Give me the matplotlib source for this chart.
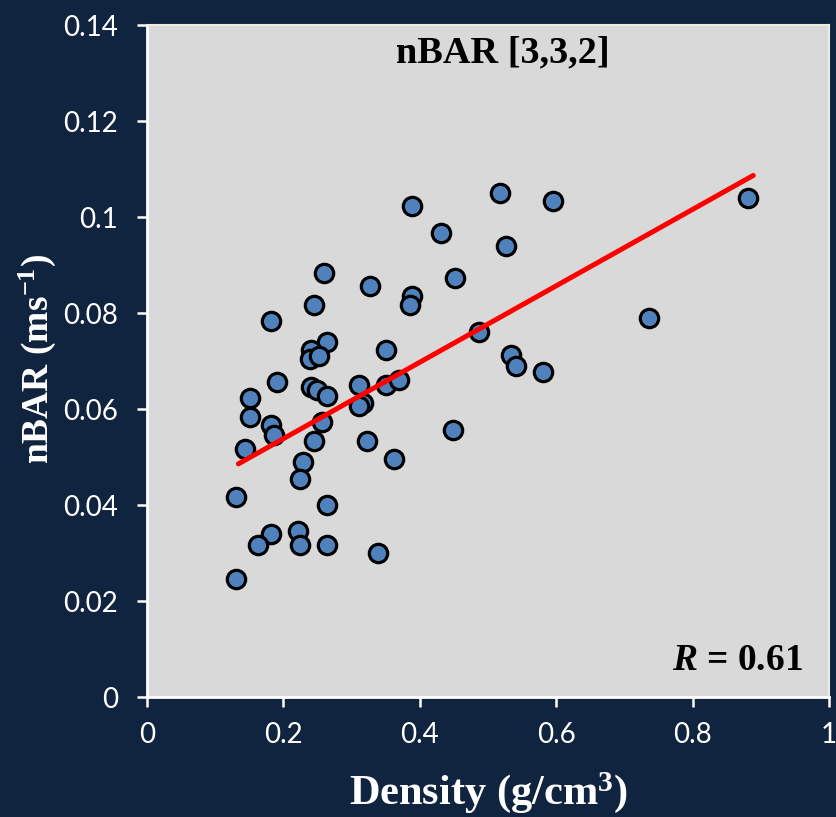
import numpy as np
import matplotlib
matplotlib.use("Agg")
import matplotlib.pyplot as plt

# density (g/cm3) vs nBAR (ms-1)
density = [0.389, 0.518, 0.431, 0.526, 0.260, 0.327, 0.451, 0.245, 0.389, 0.385,
           0.182, 0.264, 0.241, 0.239, 0.252, 0.350, 0.487, 0.190, 0.241, 0.249,
           0.264, 0.311, 0.350, 0.370, 0.317, 0.311, 0.151, 0.151, 0.182, 0.186,
           0.256, 0.143, 0.245, 0.323, 0.448, 0.229, 0.362, 0.225, 0.131, 0.264,
           0.182, 0.163, 0.221, 0.225, 0.264, 0.338, 0.131, 0.596, 0.534, 0.541,
           0.580, 0.736, 0.881]
nbar = [0.1022, 0.1050, 0.0967, 0.0939, 0.0883, 0.0856, 0.0873, 0.0817, 0.0835, 0.0817,
        0.0783, 0.0739, 0.0722, 0.0705, 0.0711, 0.0722, 0.0761, 0.0656, 0.0645, 0.0639,
        0.0628, 0.0649, 0.0649, 0.0661, 0.0613, 0.0606, 0.0622, 0.0583, 0.0566, 0.0545,
        0.0572, 0.0517, 0.0533, 0.0533, 0.0556, 0.0489, 0.0495, 0.0455, 0.0417, 0.0400,
        0.0339, 0.0317, 0.0345, 0.0317, 0.0317, 0.0300, 0.0245, 0.1033, 0.0712, 0.0689,
        0.0678, 0.0790, 0.1040]

# trend line as shown on the chart
fit_slope = 0.0796
fit_intercept = 0.0379
fit_range = [0.134, 0.889]

title_txt = "nBAR [3,3,2]"
r_txt = "$\\mathbf{\\mathit{R}}$ = 0.61"
xticks = [0, 0.2, 0.4, 0.6, 0.8, 1]
xtick_labels = ["0", "0.2", "0.4", "0.6", "0.8", "1"]
yticks = [0, 0.02, 0.04, 0.06, 0.08, 0.1, 0.12, 0.14]
ytick_labels = ["0", "0.02", "0.04", "0.06", "0.08", "0.1", "0.12", "0.14"]

navy = "#11243F"
plt.rcParams["mathtext.fontset"] = "custom"
plt.rcParams["mathtext.it"] = "Liberation Serif:italic:bold"
plt.rcParams["mathtext.bf"] = "Liberation Serif:bold"
plt.rcParams["mathtext.rm"] = "Liberation Serif:bold"

fig = plt.figure(figsize=(8.36, 8.17), dpi=100, facecolor=navy)
ax = fig.add_axes([147/836, 1-697/817, 682/836, 672/817])
ax.set_facecolor("#D9D9D9")

ax.scatter(density, nbar, s=175, c="#4F81BD", edgecolors="black", linewidths=2.3, zorder=3)
fx = np.array(fit_range)
ax.plot(fx, fit_slope*fx + fit_intercept, color="red", lw=3.6, solid_capstyle="round", zorder=4)

ax.set_xlim(0, 1)
ax.set_ylim(0, 0.14)
ax.set_xticks(xticks)
ax.set_xticklabels(xtick_labels)
ax.set_yticks(yticks)
ax.set_yticklabels(ytick_labels)
ax.tick_params(colors="white", labelcolor="white", length=7, width=1.8, direction="out")
ax.tick_params(axis="y", pad=14)
ax.tick_params(axis="x", pad=11)
for lab in ax.get_xticklabels() + ax.get_yticklabels():
    lab.set_family("Lato")
    lab.set_fontsize(20)

for s in ["left", "bottom"]:
    ax.spines[s].set_color("white")
    ax.spines[s].set_linewidth(2)
for s in ["top", "right"]:
    ax.spines[s].set_color("#EEECE1")
    ax.spines[s].set_linewidth(1.5)

ax.text(0.522, 0.958, title_txt, transform=ax.transAxes, ha="center", va="center",
        family="Liberation Serif", weight="bold", fontsize=27.5)
ax.text(0.962, 0.055, r_txt, transform=ax.transAxes, ha="right", va="center",
        family="Liberation Serif", weight="bold", fontsize=27)

fig.text(488/836, 1-793/817, "Density (g/cm$^\\mathbf{3}$)", ha="center", va="center", color="white",
         family="Liberation Serif", weight="bold", fontsize=30.5)
fig.text(37/836, 1-359/817, "nBAR (ms$^\\mathbf{-1}$)", ha="center", va="center", rotation=90,
         color="white", family="Liberation Serif", weight="bold", fontsize=27)

fig.savefig("out.png", dpi=100, facecolor=navy)
